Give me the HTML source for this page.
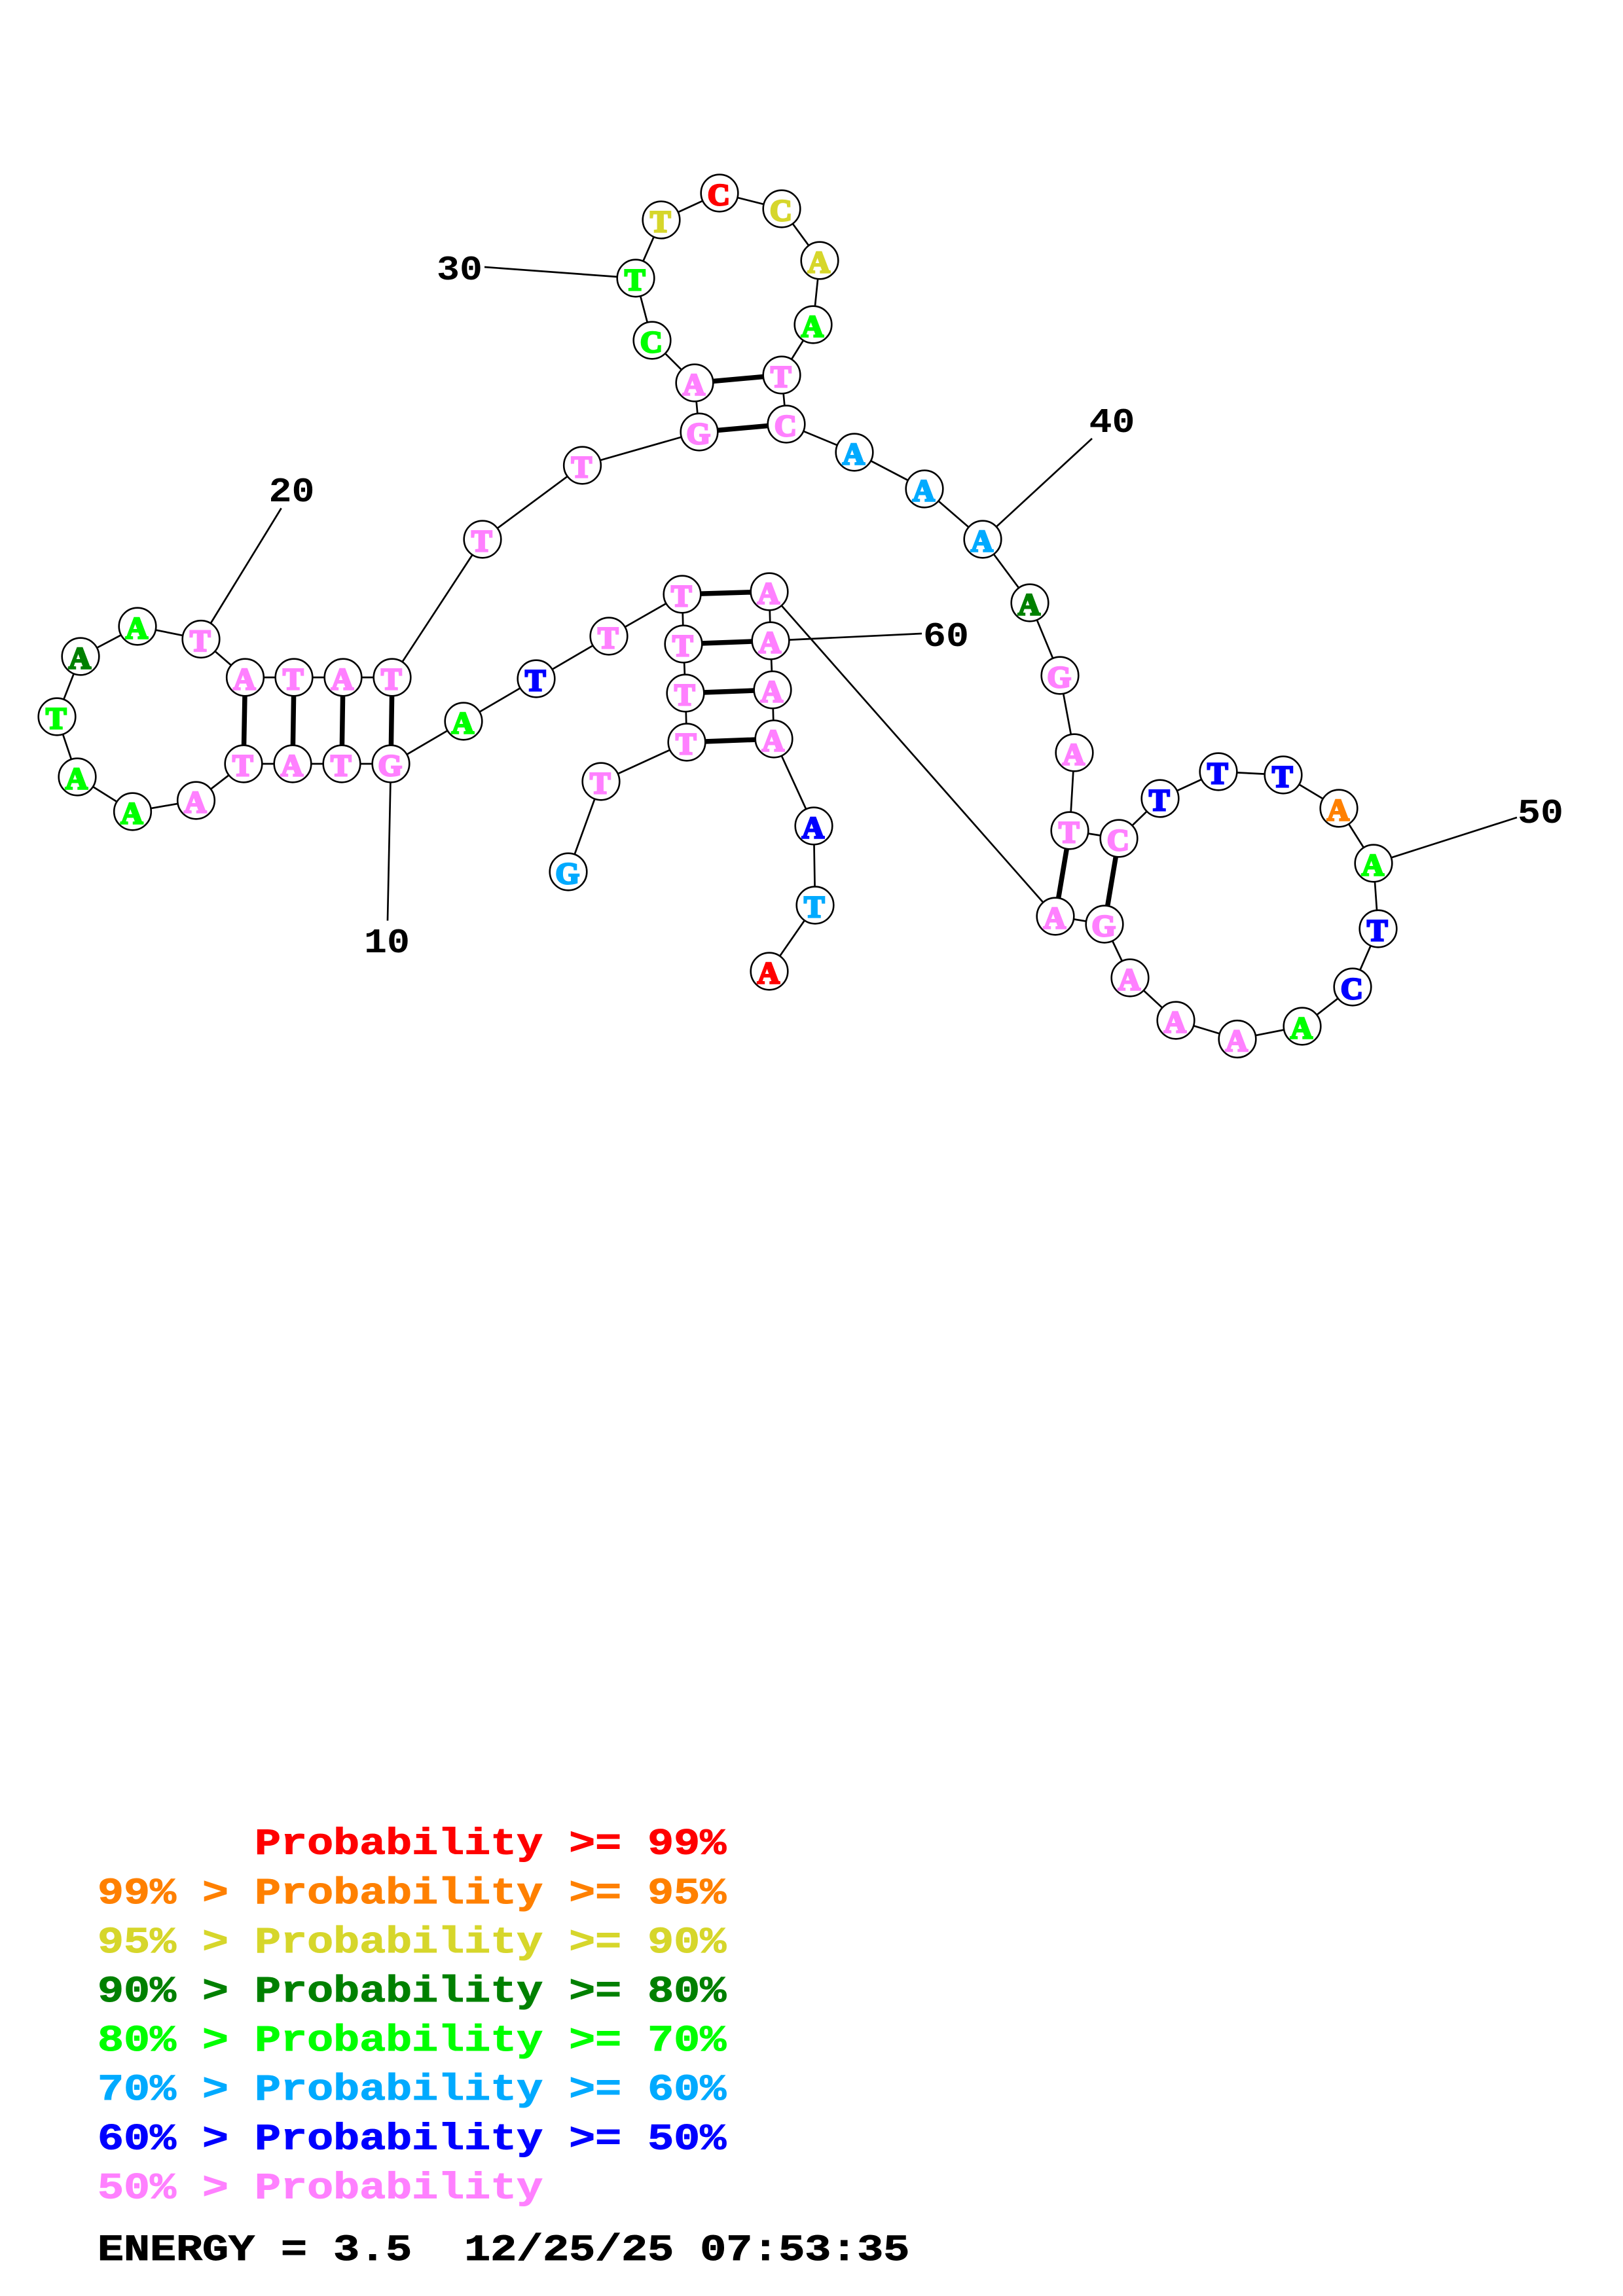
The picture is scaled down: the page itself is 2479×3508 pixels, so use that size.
<!DOCTYPE html>
<html>
<head>
<meta charset="utf-8">
<title>RNA secondary structure</title>
<style>
html,body{margin:0;padding:0;background:#fff;}
svg{display:block;}
.n{font-family:"Liberation Serif",serif;font-weight:bold;font-size:47px;text-anchor:middle;stroke-width:3px;}
.p{fill:#ff80ff;stroke:#ff80ff;}
.g{fill:#00ff00;stroke:#00ff00;}
.d{fill:#008000;stroke:#008000;}
.c{fill:#00aaff;stroke:#00aaff;}
.b{fill:#0000ff;stroke:#0000ff;}
.o{fill:#ff8000;stroke:#ff8000;}
.y{fill:#d6d62b;stroke:#d6d62b;}
.r{fill:#ff0000;stroke:#ff0000;}
.k{fill:#000;stroke:#000;}
.l{font-family:"Liberation Mono",monospace;font-weight:bold;font-size:53px;text-anchor:middle;fill:#000;}
.t{font-family:"Liberation Mono",monospace;font-weight:bold;font-size:57px;white-space:pre;stroke-width:1px;}
circle{fill:#fff;stroke:#000;stroke-width:2.6px;}
</style>
</head>
<body>
<svg xmlns="http://www.w3.org/2000/svg" width="2479" height="3508" viewBox="0 0 2479 3508">
<rect width="2479" height="3508" fill="#fff"/>
<polyline fill="none" stroke="#000" stroke-width="2.7" points="868,1332 918,1194 1049,1134 1047,1059 1044,984 1042,908 930,972 819,1037 708,1102 597,1167 522,1167 447,1167 372,1167 299.5,1223 202.5,1240 118,1187 87,1095 123,1003 210,957 307,976.5 374.5,1035 449,1035 524,1035 599,1035 737,824 889.5,711 1068,660 1061,585 996,520 971,425 1010,336 1099,295 1194,319 1252,398 1242,496 1194,573 1201,648 1305,691 1412,747 1501,824 1573,921 1619,1032 1641,1150 1634,1269 1709,1281 1772,1220 1861,1179 1960,1184 2045,1235 2098,1319 2105,1419 2066,1508 1989,1568 1890,1587.5 1796,1559 1726,1494 1687,1412 1612,1400 1175,904 1177,979 1180,1054 1182,1129 1243,1262 1245,1383 1175,1484"/>
<g fill="none" stroke="#000" stroke-width="2.7">
<line x1="307" y1="976.5" x2="429.6" y2="776.5"/>
<line x1="597" y1="1167" x2="592" y2="1406.6"/>
<line x1="971" y1="425" x2="740" y2="408"/>
<line x1="1501" y1="824" x2="1668" y2="670"/>
<line x1="2098" y1="1319" x2="2317" y2="1249"/>
<line x1="1177" y1="979" x2="1408" y2="968"/>
</g>
<g fill="none" stroke="#000" stroke-width="7.5">
<line x1="374.5" y1="1035" x2="372" y2="1167"/>
<line x1="449" y1="1035" x2="447" y2="1167"/>
<line x1="524" y1="1035" x2="522" y2="1167"/>
<line x1="599" y1="1035" x2="597" y2="1167"/>
<line x1="1061" y1="585" x2="1194" y2="573"/>
<line x1="1068" y1="660" x2="1201" y2="648"/>
<line x1="1634" y1="1269" x2="1612" y2="1400"/>
<line x1="1709" y1="1281" x2="1687" y2="1412"/>
<line x1="1042" y1="908" x2="1175" y2="904"/>
<line x1="1044" y1="984" x2="1177" y2="979"/>
<line x1="1047" y1="1059" x2="1180" y2="1054"/>
<line x1="1049" y1="1134" x2="1182" y2="1129"/>
</g>
<g>
<circle cx="868" cy="1332" r="28.3"/><text class="n c" x="866.8" y="1350">G</text>
<circle cx="918" cy="1194" r="28.3"/><text class="n p" x="916.8" y="1212">T</text>
<circle cx="1049" cy="1134" r="28.3"/><text class="n p" x="1047.8" y="1152">T</text>
<circle cx="1047" cy="1059" r="28.3"/><text class="n p" x="1045.8" y="1077">T</text>
<circle cx="1044" cy="984" r="28.3"/><text class="n p" x="1042.8" y="1002">T</text>
<circle cx="1042" cy="908" r="28.3"/><text class="n p" x="1040.8" y="926">T</text>
<circle cx="930" cy="972" r="28.3"/><text class="n p" x="928.8" y="990">T</text>
<circle cx="819" cy="1037" r="28.3"/><text class="n b" x="817.8" y="1055">T</text>
<circle cx="708" cy="1102" r="28.3"/><text class="n g" x="706.8" y="1120">A</text>
<circle cx="597" cy="1167" r="28.3"/><text class="n p" x="595.8" y="1185">G</text>
<circle cx="522" cy="1167" r="28.3"/><text class="n p" x="520.8" y="1185">T</text>
<circle cx="447" cy="1167" r="28.3"/><text class="n p" x="445.8" y="1185">A</text>
<circle cx="372" cy="1167" r="28.3"/><text class="n p" x="370.8" y="1185">T</text>
<circle cx="299.5" cy="1223" r="28.3"/><text class="n p" x="298.3" y="1241">A</text>
<circle cx="202.5" cy="1240" r="28.3"/><text class="n g" x="201.3" y="1258">A</text>
<circle cx="118" cy="1187" r="28.3"/><text class="n g" x="116.8" y="1205">A</text>
<circle cx="87" cy="1095" r="28.3"/><text class="n g" x="85.8" y="1113">T</text>
<circle cx="123" cy="1003" r="28.3"/><text class="n d" x="121.8" y="1021">A</text>
<circle cx="210" cy="957" r="28.3"/><text class="n g" x="208.8" y="975">A</text>
<circle cx="307" cy="976.5" r="28.3"/><text class="n p" x="305.8" y="994.5">T</text>
<circle cx="374.5" cy="1035" r="28.3"/><text class="n p" x="373.3" y="1053">A</text>
<circle cx="449" cy="1035" r="28.3"/><text class="n p" x="447.8" y="1053">T</text>
<circle cx="524" cy="1035" r="28.3"/><text class="n p" x="522.8" y="1053">A</text>
<circle cx="599" cy="1035" r="28.3"/><text class="n p" x="597.8" y="1053">T</text>
<circle cx="737" cy="824" r="28.3"/><text class="n p" x="735.8" y="842">T</text>
<circle cx="889.5" cy="711" r="28.3"/><text class="n p" x="888.3" y="729">T</text>
<circle cx="1068" cy="660" r="28.3"/><text class="n p" x="1066.8" y="678">G</text>
<circle cx="1061" cy="585" r="28.3"/><text class="n p" x="1059.8" y="603">A</text>
<circle cx="996" cy="520" r="28.3"/><text class="n g" x="994.8" y="538">C</text>
<circle cx="971" cy="425" r="28.3"/><text class="n g" x="969.8" y="443">T</text>
<circle cx="1010" cy="336" r="28.3"/><text class="n y" x="1008.8" y="354">T</text>
<circle cx="1099" cy="295" r="28.3"/><text class="n r" x="1097.8" y="313">C</text>
<circle cx="1194" cy="319" r="28.3"/><text class="n y" x="1192.8" y="337">C</text>
<circle cx="1252" cy="398" r="28.3"/><text class="n y" x="1250.8" y="416">A</text>
<circle cx="1242" cy="496" r="28.3"/><text class="n g" x="1240.8" y="514">A</text>
<circle cx="1194" cy="573" r="28.3"/><text class="n p" x="1192.8" y="591">T</text>
<circle cx="1201" cy="648" r="28.3"/><text class="n p" x="1199.8" y="666">C</text>
<circle cx="1305" cy="691" r="28.3"/><text class="n c" x="1303.8" y="709">A</text>
<circle cx="1412" cy="747" r="28.3"/><text class="n c" x="1410.8" y="765">A</text>
<circle cx="1501" cy="824" r="28.3"/><text class="n c" x="1499.8" y="842">A</text>
<circle cx="1573" cy="921" r="28.3"/><text class="n d" x="1571.8" y="939">A</text>
<circle cx="1619" cy="1032" r="28.3"/><text class="n p" x="1617.8" y="1050">G</text>
<circle cx="1641" cy="1150" r="28.3"/><text class="n p" x="1639.8" y="1168">A</text>
<circle cx="1634" cy="1269" r="28.3"/><text class="n p" x="1632.8" y="1287">T</text>
<circle cx="1709" cy="1281" r="28.3"/><text class="n p" x="1707.8" y="1299">C</text>
<circle cx="1772" cy="1220" r="28.3"/><text class="n b" x="1770.8" y="1238">T</text>
<circle cx="1861" cy="1179" r="28.3"/><text class="n b" x="1859.8" y="1197">T</text>
<circle cx="1960" cy="1184" r="28.3"/><text class="n b" x="1958.8" y="1202">T</text>
<circle cx="2045" cy="1235" r="28.3"/><text class="n o" x="2043.8" y="1253">A</text>
<circle cx="2098" cy="1319" r="28.3"/><text class="n g" x="2096.8" y="1337">A</text>
<circle cx="2105" cy="1419" r="28.3"/><text class="n b" x="2103.8" y="1437">T</text>
<circle cx="2066" cy="1508" r="28.3"/><text class="n b" x="2064.8" y="1526">C</text>
<circle cx="1989" cy="1568" r="28.3"/><text class="n g" x="1987.8" y="1586">A</text>
<circle cx="1890" cy="1587.5" r="28.3"/><text class="n p" x="1888.8" y="1605.5">A</text>
<circle cx="1796" cy="1559" r="28.3"/><text class="n p" x="1794.8" y="1577">A</text>
<circle cx="1726" cy="1494" r="28.3"/><text class="n p" x="1724.8" y="1512">A</text>
<circle cx="1687" cy="1412" r="28.3"/><text class="n p" x="1685.8" y="1430">G</text>
<circle cx="1612" cy="1400" r="28.3"/><text class="n p" x="1610.8" y="1418">A</text>
<circle cx="1175" cy="904" r="28.3"/><text class="n p" x="1173.8" y="922">A</text>
<circle cx="1177" cy="979" r="28.3"/><text class="n p" x="1175.8" y="997">A</text>
<circle cx="1180" cy="1054" r="28.3"/><text class="n p" x="1178.8" y="1072">A</text>
<circle cx="1182" cy="1129" r="28.3"/><text class="n p" x="1180.8" y="1147">A</text>
<circle cx="1243" cy="1262" r="28.3"/><text class="n b" x="1241.8" y="1280">A</text>
<circle cx="1245" cy="1383" r="28.3"/><text class="n c" x="1243.8" y="1401">T</text>
<circle cx="1175" cy="1484" r="28.3"/><text class="n r" x="1173.8" y="1502">A</text>
</g>
<text class="l" transform="translate(591,1455) scale(1.1,1)">10</text>
<text class="l" transform="translate(445.5,766) scale(1.1,1)">20</text>
<text class="l" transform="translate(702,427) scale(1.1,1)">30</text>
<text class="l" transform="translate(1698.5,660) scale(1.1,1)">40</text>
<text class="l" transform="translate(2353,1257) scale(1.1,1)">50</text>
<text class="l" transform="translate(1445,987) scale(1.1,1)">60</text>
<g>
<text class="t r" xml:space="preserve" transform="translate(149,2832.7) scale(1.17,1)">      Probability &gt;= 99%</text>
<text class="t o" xml:space="preserve" transform="translate(149,2907.8) scale(1.17,1)">99% &gt; Probability &gt;= 95%</text>
<text class="t y" xml:space="preserve" transform="translate(149,2982.9) scale(1.17,1)">95% &gt; Probability &gt;= 90%</text>
<text class="t d" xml:space="preserve" transform="translate(149,3058) scale(1.17,1)">90% &gt; Probability &gt;= 80%</text>
<text class="t g" xml:space="preserve" transform="translate(149,3133.1) scale(1.17,1)">80% &gt; Probability &gt;= 70%</text>
<text class="t c" xml:space="preserve" transform="translate(149,3208.2) scale(1.17,1)">70% &gt; Probability &gt;= 60%</text>
<text class="t b" xml:space="preserve" transform="translate(149,3283.3) scale(1.17,1)">60% &gt; Probability &gt;= 50%</text>
<text class="t p" xml:space="preserve" transform="translate(149,3358.4) scale(1.17,1)">50% &gt; Probability</text>
<text class="t k" xml:space="preserve" transform="translate(149,3453) scale(1.17,1)">ENERGY = 3.5  12/25/25 07:53:35</text>
</g>
</svg>
</body>
</html>
